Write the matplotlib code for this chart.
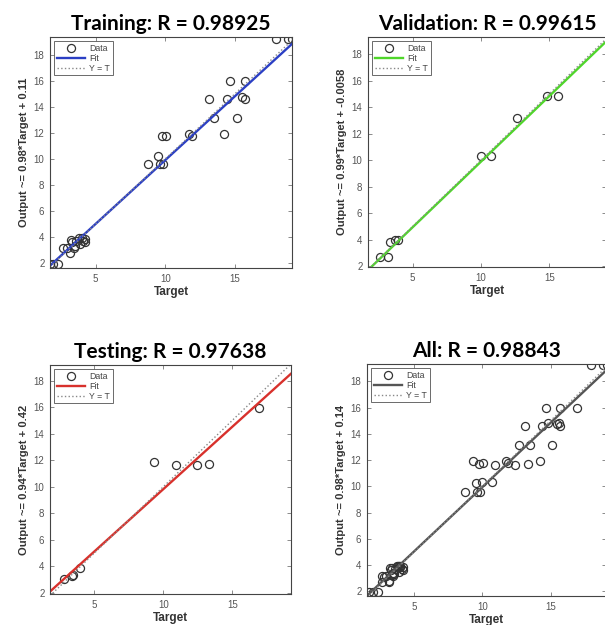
import numpy as np
import matplotlib
matplotlib.use("Agg")
import matplotlib.pyplot as plt

plt.rcParams["font.family"] = ["Liberation Sans", "DejaVu Sans"]

# --- values ---
train_t = [1.72, 1.96, 2.32, 2.68, 2.92, 3.16, 3.21, 3.44, 3.3, 3.5, 3.6, 3.8, 3.9, 4.0, 4.1, 4.2, 4.2,
           8.73, 9.50, 9.62, 9.86, 9.78, 10.05, 11.72, 11.89, 13.13, 13.52, 14.23, 14.40, 14.64,
           15.12, 15.48, 15.72, 15.72, 17.94, 18.83, 19.11]
train_y = [1.92, 1.92, 1.92, 3.15, 3.15, 2.77, 3.79, 3.15, 3.6, 3.3, 3.7, 3.9, 3.5, 3.9, 3.7, 3.85, 3.6,
           9.60, 10.24, 9.60, 9.60, 11.73, 11.78, 11.91, 11.78, 14.62, 13.14, 11.93, 14.62, 15.95,
           13.14, 14.72, 14.62, 15.95, 19.23, 19.23, 19.23]

val_t = [2.64, 3.18, 3.37, 3.73, 3.93, 9.99, 10.74, 12.66, 14.81, 15.61]
val_y = [2.70, 2.70, 3.81, 3.96, 3.96, 10.29, 10.29, 13.18, 14.81, 14.81]

test_t = [2.83, 3.36, 3.43, 3.96, 9.32, 10.92, 12.42, 13.33, 16.96]
test_y = [3.05, 3.25, 3.38, 3.88, 11.90, 11.65, 11.65, 11.72, 15.96]

all_t = train_t + val_t + test_t
all_y = train_y + val_y + test_y

titles = ["Training: R = 0.98925", "Validation: R = 0.99615",
          "Testing: R = 0.97638", "All: R = 0.98843"]
slopes = [0.98, 0.99, 0.94, 0.98]
offsets = [0.11, -0.0058, 0.42, 0.14]
ylabels = ["Output ~= 0.98*Target + 0.11", "Output ~= 0.99*Target + -0.0058",
           "Output ~= 0.94*Target + 0.42", "Output ~= 0.98*Target + 0.14"]
fit_colors = ["#2b3fc4", "#4fd62a", "#d8312c", "#555555"]

xlims = [(1.72, 19.1), (1.74, 19.14), (1.79, 19.25), (1.55, 19.06)]
ylims = [(1.62, 19.36), (1.95, 19.29), (1.92, 19.17), (1.64, 19.32)]

# axes boxes in pixels: left, top, right, bottom
boxes = [(50, 37, 292, 268), (368, 37, 606, 267),
         (50, 365, 291, 594), (367, 364, 606, 596)]

W, H = 605, 625
fig = plt.figure(figsize=(W / 100, H / 100), dpi=100)

data = [(train_t, train_y), (val_t, val_y), (test_t, test_y), (all_t, all_y)]

for i in range(4):
    l, t, r, b = boxes[i]
    ax = fig.add_axes([l / W, 1 - b / H, (r - l) / W, (b - t) / H])
    tx, ty = data[i]
    xl = np.array(xlims[i])

    ax.plot(tx, ty, "o", mfc="none", mec="#333333", ms=5.8, mew=0.9, label="Data")
    ax.plot(xl, slopes[i] * xl + offsets[i], "-", color=fit_colors[i], lw=1.7, label="Fit")
    ax.plot(xl, xl, ":", color="#888888", lw=1.0, label="Y = T")

    ax.set_xlim(xlims[i])
    ax.set_ylim(ylims[i])
    ax.set_xticks([5, 10, 15])
    ax.set_yticks(range(2, 19, 2))
    ax.tick_params(direction="in", top=True, right=True, length=3, width=0.6,
                   labelsize=7, labelcolor="#555555", color="#777777", pad=4)
    for s in ax.spines.values():
        s.set_color("#444444")
        s.set_linewidth(0.8)

    ax.set_xlabel("Target", fontsize=8.5, fontweight="bold", color="#333333", labelpad=2)
    ax.set_ylabel(ylabels[i], fontsize=8, fontweight="bold", color="#333333", labelpad=3)
    ax.set_title(titles[i], fontsize=15, fontweight="bold", family="Lato", pad=5)

    leg = ax.legend(loc="upper left", fontsize=6.3, frameon=True, fancybox=False,
                    edgecolor="#444444", borderpad=0.3, handlelength=3.2,
                    handletextpad=0.5, labelspacing=0.1, borderaxespad=0.5)
    leg.get_frame().set_linewidth(0.7)
    for txt in leg.get_texts():
        txt.set_color("#444444")

fig.savefig("out.png", dpi=100)
